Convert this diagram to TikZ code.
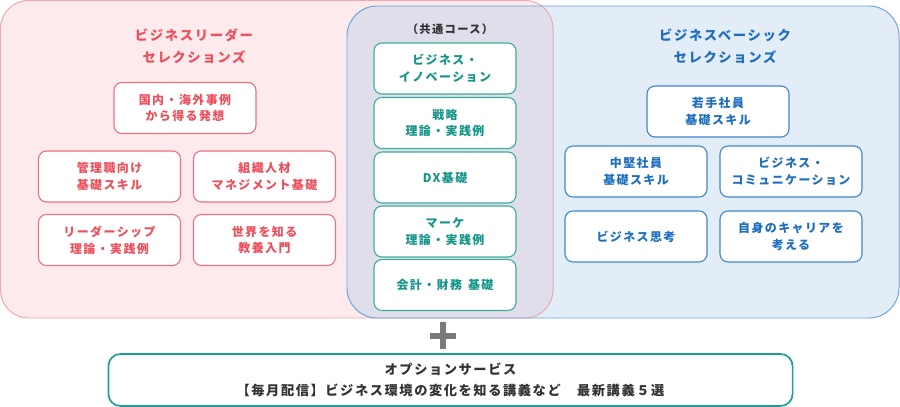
\documentclass[tikz,border=0pt]{standalone}
\usepackage{fontspec}
\usepackage{tikz}
\usepackage{color}
\newfontfamily\jp[LetterSpace=12]{Noto Sans CJK JP}

\definecolor{pinkfill}{HTML}{FCEAEC}
\definecolor{pinkline}{HTML}{F0A8AE}
\definecolor{bluefill}{HTML}{E3EDF8}
\definecolor{blueline}{HTML}{6FA3DC}
\definecolor{overlapfill}{HTML}{DFDEEA}
\definecolor{redtext}{HTML}{EE4F5C}
\definecolor{redline}{HTML}{F07080}
\definecolor{greentext}{HTML}{15958A}
\definecolor{greenline}{HTML}{3FAE9C}
\definecolor{bluetext}{HTML}{1E6EBF}
\definecolor{bluebox}{HTML}{3D87D0}
\definecolor{optline}{HTML}{1E9E98}
\definecolor{plusgray}{HTML}{7A7A7A}

\begin{document}
\begin{tikzpicture}[x=0.025cm,y=-0.025cm,
  course/.style={draw,fill=white,rounded corners=0.2cm,line width=0.8pt,
    minimum width=3.55cm,minimum height=1.275cm,inner sep=0pt,align=center,
    font=\jp\bfseries\fontsize{8.5}{12}\selectfont},
  redcourse/.style={course,draw=redline,text=redtext},
  greencourse/.style={course,draw=greenline,text=greentext},
  bluecourse/.style={course,draw=bluebox,text=bluetext},
  heading/.style={align=center,font=\jp\bfseries\fontsize{9.5}{15.5}\selectfont}]
\useasboundingbox (0,0) rectangle (900,407);

% Hintergrund
\fill[pinkfill,rounded corners=0.7cm] (0.5,0.5) rectangle (553,318);
\fill[bluefill,rounded corners=0.75cm] (347,6) rectangle (899,318);
\begin{scope}
\clip[rounded corners=0.7cm] (0.5,0.5) rectangle (553,318);
\fill[overlapfill,rounded corners=0.75cm] (347,6) rectangle (899,318);
\end{scope}
\draw[pinkline,line width=0.7pt,rounded corners=0.7cm] (0.5,0.5) rectangle (553,318);
\draw[blueline,line width=0.7pt,rounded corners=0.75cm] (347,6) rectangle (899,318);

% Business Leader
\node[heading,text=redtext] (leadtitle) at (194,46) {ビジネスリーダー\\セレクションズ};
\node[redcourse] (kokunai) at (185,108) {国内・海外事例\\から得る発想};
\node[redcourse] (kanri) at (109.5,176.5) {管理職向け\\基礎スキル};
\node[redcourse] (soshiki) at (264.5,176.5) {組織人材\\マネジメント基礎};
\node[redcourse] (leader) at (109.5,240) {リーダーシップ\\理論・実践例};
\node[redcourse] (sekai) at (264.5,240) {世界を知る\\教養入門};

% Kyoutsuu
\node[heading,text=black!80,font=\jp\bfseries\fontsize{8}{10}\selectfont] (common) at (450,29) {（共通コース）};
\node[greencourse] (innov) at (445,68.5) {ビジネス・\\イノベーション};
\node[greencourse] (senryaku) at (445,123) {戦略\\理論・実践例};
\node[greencourse] (dx) at (445,177.5) {DX基礎};
\node[greencourse] (marke) at (445,231.5) {マーケ\\理論・実践例};
\node[greencourse] (kaikei) at (445,285) {会計・財務\enspace 基礎};

% Business Basic
\node[heading,text=bluetext] (basictitle) at (725,46) {ビジネスベーシック\\セレクションズ};
\node[bluecourse] (wakate) at (718,111.5) {若手社員\\基礎スキル};
\node[bluecourse] (chuken) at (636,171.5) {中堅社員\\基礎スキル};
\node[bluecourse] (comm) at (791,171.5) {ビジネス・\\コミュニケーション};
\node[bluecourse] (shiko) at (636,236.5) {ビジネス思考};
\node[bluecourse] (jishin) at (791,236.5) {自身のキャリアを\\考える};

% plus
\fill[plusgray] (440,322) rectangle (446,349);
\fill[plusgray] (430,332.5) rectangle (456,338.5);

% Option
\node[draw=optline,fill=white,line width=1.2pt,rounded corners=0.3cm,
  minimum width=17.1cm,minimum height=1.3cm,align=center,text=black!80,
  font=\jp\bfseries\fontsize{9.4}{15}\selectfont] (option) at (450.5,380)
  {オプションサービス\\【毎月配信】ビジネス環境の変化を知る講義など　最新講義５選};

\end{tikzpicture}
\end{document}
